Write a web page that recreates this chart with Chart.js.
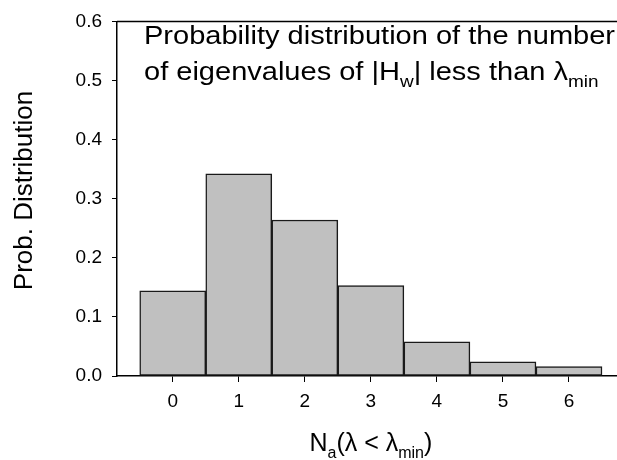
<!DOCTYPE html>
<html>
<head>
<meta charset="utf-8">
<script src="https://cdn.jsdelivr.net/npm/chart.js@4/dist/chart.umd.min.js"></script>
<style>
  html, body { margin: 0; padding: 0; background: #fff; }
  #wrap { width: 617px; height: 460px; }
</style>
</head>
<body>
<div id="wrap"><canvas id="c" width="617" height="460"></canvas></div>
<script>
// ---- data ----
const categories = [0, 1, 2, 3, 4, 5, 6];
const probValues = [0.144, 0.342, 0.264, 0.153, 0.058, 0.024, 0.016];
const xTickLabels = ['0', '1', '2', '3', '4', '5', '6'];
const yTickValues = [0.0, 0.1, 0.2, 0.3, 0.4, 0.5, 0.6];
const titleLine1 = [{ t: 'Probability distribution of the number' }];
const titleLine2 = [{ t: 'of eigenvalues of |H' }, { t: 'w', sub: true }, { t: '| less than \u03bb' }, { t: 'min', sub: true }];
const xTitle = [{ t: 'N' }, { t: 'a', sub: true }, { t: '(\u03bb < \u03bb' }, { t: 'min', sub: true }, { t: ')' }];
const yTitle = 'Prob. Distribution';

const FONT = "'Liberation Sans', Arial, Helvetica, sans-serif";

function measureRich(ctx, segs, size) {
  let w = 0;
  for (const s of segs) {
    ctx.font = (s.sub ? Math.round(size * 0.64) : size) + 'px ' + FONT;
    w += ctx.measureText(s.t).width;
  }
  return w;
}
function drawRich(ctx, segs, x, y, size, sx) {
  ctx.save();
  ctx.translate(x, y);
  ctx.scale(sx, 1);
  let cx = 0;
  ctx.textBaseline = 'alphabetic';
  ctx.textAlign = 'left';
  ctx.fillStyle = '#000';
  for (const s of segs) {
    const fs = s.sub ? Math.round(size * 0.64) : size;
    ctx.font = fs + 'px ' + FONT;
    ctx.fillText(s.t, cx, s.sub ? size * 0.28 : 0);
    cx += ctx.measureText(s.t).width;
  }
  ctx.restore();
}

const textPlugin = {
  id: 'texts',
  afterDraw(chart) {
    const ctx = chart.ctx;
    const ca = chart.chartArea;
    // top frame line
    ctx.save();
    ctx.strokeStyle = '#000';
    ctx.lineWidth = 1.5;
    ctx.beginPath();
    ctx.moveTo(ca.left, ca.top);
    ctx.lineTo(chart.width, ca.top);
    ctx.stroke();
    ctx.restore();

    // in-plot title
    const tSize = 26;
    const w1 = measureRich(ctx, titleLine1, tSize);
    const sx = 471 / w1;
    drawRich(ctx, titleLine1, 144, 43.5, tSize, sx);
    drawRich(ctx, titleLine2, 144, 79.5, tSize, sx);

    // x title centred under the bars
    const xs = chart.scales.x;
    const xc = (xs.getPixelForValue(categories[0] - 0.5) + xs.getPixelForValue(categories[categories.length - 1] + 0.5)) / 2;
    const xSize = 25;
    const wx = measureRich(ctx, xTitle, xSize);
    drawRich(ctx, xTitle, xc - wx / 2, 451, xSize, 1);

    // y title rotated
    ctx.save();
    ctx.translate(32, 190.5);
    ctx.rotate(-Math.PI / 2);
    ctx.font = '26px ' + FONT;
    ctx.fillStyle = '#000';
    ctx.textAlign = 'center';
    ctx.textBaseline = 'alphabetic';
    ctx.fillText(yTitle, 0, 0);
    ctx.restore();
  }
};

new Chart(document.getElementById('c'), {
  type: 'bar',
  data: {
    datasets: [{
      data: categories.map((c, i) => ({ x: c, y: probValues[i] })),
      backgroundColor: '#c0c0c0',
      borderColor: '#1a1a1a',
      borderWidth: 1.5,
      barPercentage: 1,
      categoryPercentage: 1,
      borderSkipped: false
    }]
  },
  options: {
    responsive: false,
    animation: false,
    devicePixelRatio: 1,
    layout: { padding: { top: 12, left: 0, right: 0, bottom: 0 } },
    plugins: { legend: { display: false }, tooltip: { enabled: false }, title: { display: false } },
    scales: {
      x: {
        type: 'linear',
        offset: false,
        min: -0.844,
        max: 6.727,
        afterBuildTicks: (s) => { s.ticks = categories.map(v => ({ value: v })); },
        afterFit: (s) => { s.height = 84; },
        ticks: {
          autoSkip: false,
          maxRotation: 0,
          color: '#000',
          padding: 8,
          font: { size: 19, family: FONT },
          callback: (v, i) => xTickLabels[i]
        },
        grid: { drawOnChartArea: false, drawTicks: true, tickLength: 6, color: '#000', lineWidth: 1, offset: false },
        border: { display: true, color: '#000', width: 1.5 }
      },
      y: {
        min: 0,
        max: 0.6,
        afterBuildTicks: (s) => { s.ticks = yTickValues.map(v => ({ value: v })); },
        afterFit: (s) => { s.width = 117; },
        ticks: {
          color: '#000',
          padding: 10,
          font: { size: 19, family: FONT },
          callback: (v) => Number(v).toFixed(1)
        },
        grid: { drawOnChartArea: false, drawTicks: true, tickLength: 5, color: '#000', lineWidth: 1 },
        border: { display: true, color: '#000', width: 1.5 }
      }
    }
  },
  plugins: [textPlugin]
});
</script>
</body>
</html>
